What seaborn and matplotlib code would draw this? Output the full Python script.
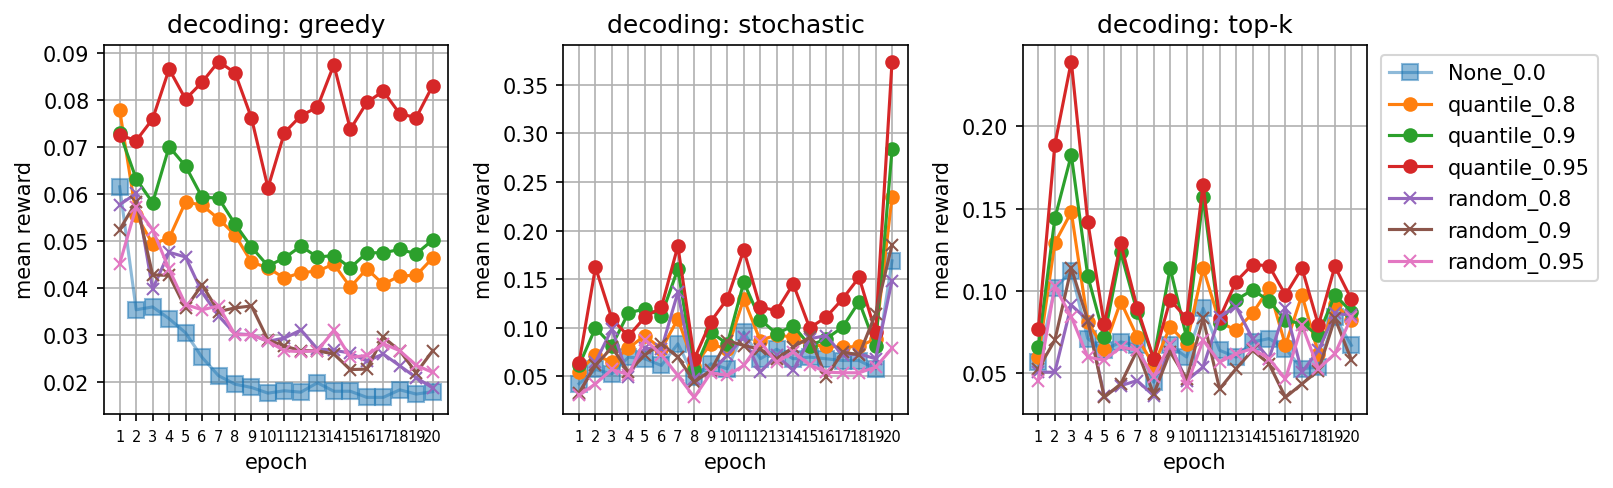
"""Mean reward per epoch for three decoding modes, one panel per mode."""

import matplotlib

matplotlib.use("Agg")
import matplotlib.pyplot as plt
import numpy as np
import pandas as pd
import seaborn as sns

EPOCHS = list(range(1, 21))
DECODINGS = ["greedy", "stochastic", "top-k"]
SERIES = ["None_0.0", "quantile_0.8", "quantile_0.9", "quantile_0.95",
          "random_0.8", "random_0.9", "random_0.95"]

# greedy decoding
GREEDY_NONE = [0.0615, 0.0354, 0.0360, 0.0335, 0.0305, 0.0253, 0.0214, 0.0196, 0.0189, 0.0177,
               0.0182, 0.0179, 0.0199, 0.0181, 0.0181, 0.0168, 0.0168, 0.0184, 0.0175, 0.0180]
GREEDY_Q08 = [0.0778, 0.0555, 0.0494, 0.0506, 0.0583, 0.0576, 0.0547, 0.0513, 0.0455, 0.0443,
              0.0421, 0.0433, 0.0436, 0.0451, 0.0402, 0.0441, 0.0408, 0.0426, 0.0427, 0.0464]
GREEDY_Q09 = [0.0730, 0.0632, 0.0581, 0.0700, 0.0659, 0.0593, 0.0591, 0.0536, 0.0487, 0.0447,
              0.0464, 0.0489, 0.0466, 0.0469, 0.0443, 0.0475, 0.0475, 0.0482, 0.0473, 0.0502]
GREEDY_Q095 = [0.0725, 0.0713, 0.0759, 0.0865, 0.0801, 0.0837, 0.0881, 0.0857, 0.0761, 0.0613,
               0.0730, 0.0766, 0.0784, 0.0874, 0.0737, 0.0794, 0.0818, 0.0770, 0.0762, 0.0830]
GREEDY_R08 = [0.0577, 0.0601, 0.0398, 0.0476, 0.0466, 0.0391, 0.0341, 0.0303, 0.0301, 0.0287,
              0.0294, 0.0311, 0.0271, 0.0268, 0.0262, 0.0245, 0.0260, 0.0235, 0.0210, 0.0188]
GREEDY_R09 = [0.0524, 0.0583, 0.0428, 0.0427, 0.0357, 0.0407, 0.0350, 0.0358, 0.0362, 0.0290,
              0.0277, 0.0267, 0.0267, 0.0260, 0.0227, 0.0228, 0.0296, 0.0267, 0.0220, 0.0267]
GREEDY_R095 = [0.0452, 0.0572, 0.0524, 0.0440, 0.0365, 0.0354, 0.0362, 0.0301, 0.0301, 0.0287,
               0.0267, 0.0265, 0.0267, 0.0310, 0.0253, 0.0257, 0.0282, 0.0267, 0.0236, 0.0221]

# stochastic decoding
STOCH_NONE = [0.0425, 0.0572, 0.0527, 0.0699, 0.0682, 0.0613, 0.0836, 0.0493, 0.0630, 0.0579,
              0.0955, 0.0682, 0.0780, 0.0682, 0.0699, 0.0682, 0.0664, 0.0664, 0.0579, 0.1690]
STOCH_Q08 = [0.0551, 0.0723, 0.0647, 0.0791, 0.0921, 0.0780, 0.1092, 0.0610, 0.0836, 0.0780,
             0.1298, 0.0870, 0.0928, 0.0904, 0.0818, 0.0818, 0.0800, 0.0810, 0.0887, 0.2348]
STOCH_Q09 = [0.0613, 0.1000, 0.0818, 0.1154, 0.1195, 0.1127, 0.1606, 0.0562, 0.0955, 0.0836,
             0.1469, 0.1086, 0.0938, 0.1024, 0.0818, 0.0887, 0.1007, 0.1270, 0.0818, 0.2836]
STOCH_Q095 = [0.0640, 0.1623, 0.1092, 0.0914, 0.1110, 0.1212, 0.1842, 0.0682, 0.1065, 0.1298,
              0.1800, 0.1212, 0.1178, 0.1452, 0.1000, 0.1110, 0.1298, 0.1520, 0.0955, 0.3740]
STOCH_R08 = [0.0315, 0.0647, 0.0990, 0.0493, 0.0790, 0.0780, 0.1366, 0.0476, 0.0545, 0.0716,
             0.0904, 0.0545, 0.0716, 0.0562, 0.0887, 0.0921, 0.0716, 0.0733, 0.0682, 0.1487]
STOCH_R09 = [0.0332, 0.0613, 0.0800, 0.0545, 0.0723, 0.0836, 0.0699, 0.0442, 0.0562, 0.0870,
             0.0818, 0.0780, 0.0682, 0.0800, 0.0904, 0.0493, 0.0750, 0.0723, 0.1144, 0.1855]
STOCH_R095 = [0.0305, 0.0425, 0.0572, 0.0517, 0.0880, 0.0723, 0.0510, 0.0285, 0.0538, 0.0510,
              0.0613, 0.0853, 0.0647, 0.0750, 0.0620, 0.0545, 0.0538, 0.0538, 0.0596, 0.0789]

# top-k decoding
TOPK_NONE = [0.0567, 0.1016, 0.1118, 0.0710, 0.0639, 0.0690, 0.0669, 0.0445, 0.0669, 0.0598,
             0.0894, 0.0639, 0.0598, 0.0690, 0.0710, 0.0649, 0.0527, 0.0537, 0.0843, 0.0669]
TOPK_Q08 = [0.0598, 0.1291, 0.1479, 0.0811, 0.0649, 0.0935, 0.0720, 0.0547, 0.0782, 0.0680,
            0.1139, 0.0810, 0.0761, 0.0863, 0.1016, 0.0669, 0.0976, 0.0618, 0.0920, 0.0822]
TOPK_Q09 = [0.0659, 0.1440, 0.1826, 0.1090, 0.0720, 0.1234, 0.0873, 0.0586, 0.1139, 0.0716,
            0.1571, 0.0802, 0.0945, 0.1006, 0.0941, 0.0822, 0.0800, 0.0731, 0.0976, 0.0873]
TOPK_Q095 = [0.0767, 0.1888, 0.2394, 0.1420, 0.0796, 0.1291, 0.0898, 0.0588, 0.0945, 0.0833,
             0.1644, 0.0833, 0.1057, 0.1160, 0.1153, 0.0976, 0.1139, 0.0792, 0.1149, 0.0949]
TOPK_R08 = [0.0506, 0.0506, 0.0914, 0.0822, 0.0363, 0.0424, 0.0455, 0.0363, 0.0669, 0.0455,
            0.0537, 0.0843, 0.0904, 0.0710, 0.0588, 0.0894, 0.0506, 0.0639, 0.0863, 0.0853]
TOPK_R09 = [0.0527, 0.0700, 0.1139, 0.0820, 0.0353, 0.0435, 0.0639, 0.0373, 0.0629, 0.0465,
            0.0833, 0.0404, 0.0527, 0.0639, 0.0557, 0.0353, 0.0435, 0.0516, 0.0833, 0.0582]
TOPK_R095 = [0.0455, 0.1027, 0.0843, 0.0598, 0.0578, 0.0659, 0.0639, 0.0476, 0.0680, 0.0424,
             0.0700, 0.0567, 0.0618, 0.0649, 0.0588, 0.0465, 0.0792, 0.0527, 0.0618, 0.0840]

PANELS = {
    "greedy": [GREEDY_NONE, GREEDY_Q08, GREEDY_Q09, GREEDY_Q095, GREEDY_R08, GREEDY_R09, GREEDY_R095],
    "stochastic": [STOCH_NONE, STOCH_Q08, STOCH_Q09, STOCH_Q095, STOCH_R08, STOCH_R09, STOCH_R095],
    "top-k": [TOPK_NONE, TOPK_Q08, TOPK_Q09, TOPK_Q095, TOPK_R08, TOPK_R09, TOPK_R095],
}

COLORS = ["tab:blue", "tab:orange", "tab:green", "tab:red", "tab:purple", "tab:brown", "tab:pink"]


def _long_frame() -> pd.DataFrame:
    rows = []
    for decoding in DECODINGS:
        for name, values in zip(SERIES, PANELS[decoding]):
            for epoch, v in zip(EPOCHS, values):
                rows.append({"decoding": decoding, "series": name, "epoch": epoch, "mean_reward": v})
    return pd.DataFrame(rows)


def main() -> None:
    df = _long_frame()

    fig, axes = plt.subplots(1, 3, figsize=(1613 / 150, 489 / 150), dpi=150)
    fig.subplots_adjust(left=0.0645, right=0.8475, bottom=0.151, top=0.9065, wspace=0.334)

    for ax, decoding in zip(axes, DECODINGS):
        sub = df[df["decoding"] == decoding]
        for name, color in zip(SERIES, COLORS):
            d = sub[sub["series"] == name]
            if name == "None_0.0":
                kw = dict(marker="s", markersize=8, alpha=0.5)
            elif name.startswith("quantile"):
                kw = dict(marker="o", markersize=6)
            else:
                kw = dict(marker="x", markersize=6)
            # seaborn paints marker edges white by default; the reference keeps them coloured
            sns.lineplot(data=d, x="epoch", y="mean_reward", color=color, label=name,
                         legend=False, ax=ax, markeredgecolor=color, markeredgewidth=1.0, **kw)
        ax.set_title(f"decoding: {decoding}", fontsize=12)
        ax.set_xlabel("epoch")
        ax.set_ylabel("mean reward")
        ax.set_xticks(EPOCHS)
        ax.set_xticklabels([str(e) for e in EPOCHS], fontsize=7)
        ax.grid(True)

    axes[2].legend(loc="upper left", bbox_to_anchor=(1.01, 1.0))

    fig.savefig("out.png", dpi=150)
    plt.close(fig)


if __name__ == "__main__":
    main()
